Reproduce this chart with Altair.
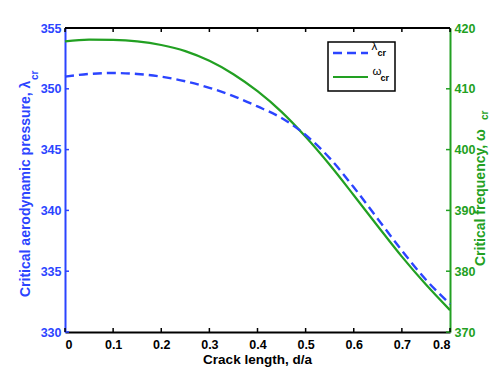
import altair as alt
import pandas as pd

# ---- data ----
crack = [0.0, 0.05, 0.1, 0.15, 0.2, 0.25, 0.3, 0.35, 0.4, 0.45, 0.5,
         0.55, 0.6, 0.65, 0.7, 0.75, 0.8]
lam_cr = [351.0, 351.22, 351.3, 351.22, 351.0, 350.62, 350.08, 349.4, 348.55,
          347.6, 346.2, 344.3, 341.9, 339.3, 336.7, 334.3, 332.3]
omega_cr = [417.8, 418.1, 418.05, 417.8, 417.2, 416.2, 414.6, 412.4, 409.6,
            406.2, 402.1, 397.5, 392.5, 387.4, 382.4, 377.8, 373.6]

x_ticks = [0, 0.1, 0.2, 0.3, 0.4, 0.5, 0.6, 0.7, 0.8]
lam_ticks = [330, 335, 340, 345, 350, 355]
omega_ticks = [370, 380, 390, 400, 410, 420]

x_title = "Crack length, d/a"
lam_title = "Critical aerodynamic pressure, λ"
omega_title = "Critical frequency, ω"
sub_cr = "cr"
leg_lam = "λ"
leg_omega = "ω"

BLUE = "#2b44ff"
GREEN = "#22a022"
FONT = "Liberation Sans"
W, H = 385, 304

df = pd.DataFrame({"d": crack, "lam": lam_cr, "omega": omega_cr})

xs = alt.Scale(domain=[0, 0.8], nice=False, zero=False)
ls = alt.Scale(domain=[330, 355], nice=False, zero=False)
osc = alt.Scale(domain=[370, 420], nice=False, zero=False)

x_axis = alt.Axis(values=x_ticks, labelExpr="datum.value == 0 ? '0' : format(datum.value, '.1f')",
                  title=None, grid=False, ticks=False,
                  domainColor="black", domainWidth=2, labelColor="black",
                  labelFont=FONT, labelFontWeight="bold", labelFontSize=12.5,
                  labelPadding=6)
lam_axis = alt.Axis(values=lam_ticks, orient="left", title=None, grid=False,
                    ticks=False, domainColor=BLUE, domainWidth=2,
                    labelColor=BLUE, labelFont=FONT, labelFontWeight="bold",
                    labelFontSize=12.5, labelPadding=4)
omega_axis = alt.Axis(values=omega_ticks, orient="right", title=None, grid=False,
                      ticks=False, domainColor=GREEN, domainWidth=2,
                      labelColor=GREEN, labelFont=FONT, labelFontWeight="bold",
                      labelFontSize=12.5, labelPadding=4)

X = alt.X("d:Q", scale=xs, axis=x_axis)

omega_line = alt.Chart(df).mark_line(color=GREEN, strokeWidth=2.2, interpolate="monotone").encode(
    x=X, y=alt.Y("omega:Q", scale=osc, axis=omega_axis))
omega_tk = alt.Chart(pd.DataFrame({"v": omega_ticks})).mark_rule(color=GREEN, strokeWidth=1.5).encode(
    y=alt.Y("v:Q", scale=osc, axis=omega_axis), x=alt.value(W - 4), x2=alt.value(W))
omega_layer = alt.layer(omega_line, omega_tk)

lam_line = alt.Chart(df).mark_line(color=BLUE, strokeWidth=2.4, strokeDash=[9, 5],
                                   interpolate="monotone").encode(
    x=X, y=alt.Y("lam:Q", scale=ls, axis=lam_axis))
lam_tk = alt.Chart(pd.DataFrame({"v": lam_ticks})).mark_rule(color=BLUE, strokeWidth=1.5).encode(
    y=alt.Y("v:Q", scale=ls, axis=lam_axis), x=alt.value(0), x2=alt.value(4))
lam_layer = alt.layer(lam_line, lam_tk)

xt = pd.DataFrame({"d": x_ticks})
bot_tk = alt.Chart(xt).mark_rule(color="black", strokeWidth=1.5).encode(
    x=X, y=alt.value(H - 4), y2=alt.value(H))
top_tk = alt.Chart(xt).mark_rule(color="black", strokeWidth=1.5).encode(
    x=X, y=alt.value(0), y2=alt.value(4))
top_border = alt.Chart(pd.DataFrame({"a": [0]})).mark_rule(color="black", strokeWidth=2).encode(
    x=alt.value(0), x2=alt.value(W), y=alt.value(0))


def label(txt, x, y, size, color, angle=0, weight="bold", align="left"):
    return alt.Chart(pd.DataFrame({"t": [txt]})).mark_text(
        angle=angle, align=align, baseline="alphabetic", font=FONT,
        fontSize=size, fontWeight=weight, color=color).encode(
        x=alt.value(x), y=alt.value(y), text="t:N")


titles = [
    label(x_title, W / 2, 335.5, 13.5, "black", align="center"),
    label(lam_title, -35, 269, 14, BLUE, angle=270),
    label(sub_cr, -27, 52, 10, BLUE, angle=270),
    label(omega_title, 419.5, 238, 14, GREEN, angle=270),
    label(sub_cr, 422.5, 92, 10, GREEN, angle=270),
]

legend_box = alt.Chart(pd.DataFrame({"a": [0]})).mark_rect(
    fill="white", stroke="black", strokeWidth=1.5).encode(
    x=alt.value(263), x2=alt.value(330), y=alt.value(14), y2=alt.value(63))
leg_l1 = alt.Chart(pd.DataFrame({"a": [0]})).mark_rule(
    color=BLUE, strokeWidth=2.4, strokeDash=[9, 5]).encode(
    x=alt.value(268), x2=alt.value(303), y=alt.value(25))
leg_l2 = alt.Chart(pd.DataFrame({"a": [0]})).mark_rule(
    color=GREEN, strokeWidth=2.2).encode(
    x=alt.value(268), x2=alt.value(303), y=alt.value(49))
legend = [
    legend_box, leg_l1, leg_l2,
    label(leg_lam, 306.5, 21.5, 11.5, "black", weight="normal"),
    label(sub_cr, 312.5, 27.5, 9, "black"),
    label(leg_omega, 307.5, 46.5, 11.5, "black", weight="normal"),
    label(sub_cr, 315.5, 52.5, 9, "black"),
]

chart = alt.layer(
    omega_layer, lam_layer, bot_tk, top_tk, top_border, *titles, *legend
).resolve_scale(y="independent").properties(
    width=W, height=H,
    padding={"left": 57, "top": 20, "right": 40, "bottom": 35},
    autosize=alt.AutoSizeParams(type="none"),
).configure_view(stroke=None)

chart.save("out.html", embed_options={"renderer": "svg", "actions": False})
